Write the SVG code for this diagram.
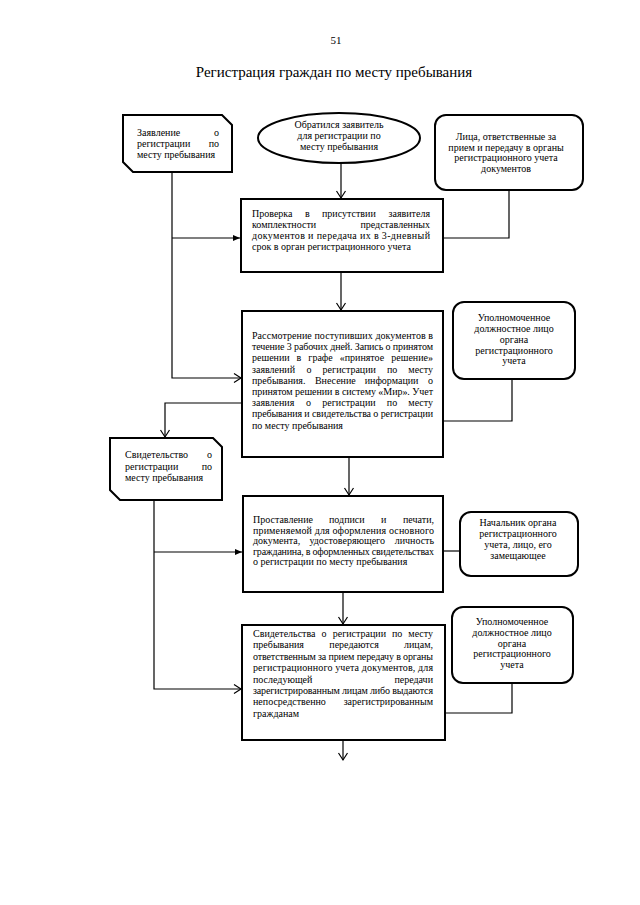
<svg xmlns="http://www.w3.org/2000/svg" width="640" height="905" viewBox="0 0 640 905">
<style>
.bx{fill:#fff;stroke:#000;stroke-width:2}
.ln{fill:none;stroke:#000;stroke-width:1.2}
text{font-family:"Liberation Serif","Times New Roman",serif;font-size:10px;fill:#000}
.c{text-anchor:middle}
.e{text-anchor:end}
</style>
<defs>
<marker id="ao" markerUnits="userSpaceOnUse" markerWidth="12" markerHeight="12" viewBox="-8 -6 10 12" refX="0" refY="0" orient="auto"><path d="M-7,-4.5 L0,0 L-7,4.5" fill="none" stroke="#000" stroke-width="1.2"/></marker>
<marker id="af" markerUnits="userSpaceOnUse" markerWidth="10" markerHeight="10" viewBox="-8 -5 9 10" refX="0" refY="0" orient="auto"><path d="M-7,-3 L0,0 L-7,3 Z" fill="#000"/></marker>
</defs>
<rect width="640" height="905" fill="#fff"/>
<text x="336" y="44" class="c" style="font-size:11px">51</text>
<text x="334" y="77" class="c" style="font-size:15px">Регистрация граждан по месту пребывания</text>

<g id="connectors">
<path class="ln" d="M341,163 V198" marker-end="url(#ao)"/>
<path class="ln" d="M509,190 V238 H443"/>
<path class="ln" d="M172,172 V378 H241" marker-end="url(#ao)"/>
<path class="ln" d="M172,238 H240" marker-end="url(#af)"/>
<path class="ln" d="M341,272 V310" marker-end="url(#ao)"/>
<path class="ln" d="M512,378 V421 H443"/>
<path class="ln" d="M242,403 H165 V437" marker-end="url(#ao)"/>
<path class="ln" d="M349,457 V495" marker-end="url(#ao)"/>
<path class="ln" d="M154,500 V689 H241" marker-end="url(#ao)"/>
<path class="ln" d="M154,552 H242" marker-end="url(#af)"/>
<path class="ln" d="M443,551 H460"/>
<path class="ln" d="M343,592 V624" marker-end="url(#ao)"/>
<path class="ln" d="M512,683 V713 H445"/>
<path class="ln" d="M343,740 V760" marker-end="url(#ao)"/>
</g>

<g id="n-zayavlenie">
<polygon class="bx" points="123,115 222,115 232,125 232,172 133,172 123,162"/>
<text x="137" y="136">Заявление</text><text x="219" y="136" class="e">о</text>
<text x="137" y="147">регистрации</text><text x="219" y="147" class="e">по</text>
<text x="137" y="158">месту пребывания</text>
</g>

<g id="n-start">
<ellipse class="bx" cx="339" cy="138" rx="81" ry="25"/>
<text x="339" y="128" class="c">Обратился заявитель</text>
<text x="339" y="139" class="c">для регистрации по</text>
<text x="339" y="150" class="c">месту пребывания</text>
</g>

<g id="n-litsa">
<rect class="bx" x="435" y="115" width="148" height="75" rx="11"/>
<text x="506" y="140" class="c">Лица, ответственные за</text>
<text x="506" y="150.5" class="c">прием и передачу в органы</text>
<text x="506" y="161" class="c">регистрационного учета</text>
<text x="506" y="171.5" class="c">документов</text>
</g>

<g id="n-proverka">
<rect class="bx" x="241" y="199" width="202" height="73"/>
<text x="252" y="217">Проверка</text><text x="305" y="217">в</text><text x="322" y="217">присутствии</text><text x="430" y="217" class="e">заявителя</text>
<text x="252" y="228">комплектности</text><text x="430" y="228" class="e">представленных</text>
<text x="252" y="239" textLength="178" lengthAdjust="spacing">документов и передача их в 3-дневный</text>
<text x="252" y="250">срок в орган регистрационного учета</text>
</g>

<g id="n-rassmotrenie">
<rect class="bx" x="242" y="311" width="201" height="146"/>
<text x="252" y="339" textLength="181" lengthAdjust="spacing">Рассмотрение поступивших документов в</text>
<text x="252" y="350.2" textLength="181" lengthAdjust="spacing">течение 3 рабочих дней. Запись о принятом</text>
<text x="252" y="361.4">решении</text><text x="296.6" y="361.4">в</text><text x="308.3" y="361.4">графе</text><text x="339.7" y="361.4">«принятое</text><text x="433" y="361.4" class="e">решение»</text>
<text x="252" y="372.6">заявлений</text><text x="306.5" y="372.6">о</text><text x="322.6" y="372.6">регистрации</text><text x="386.9" y="372.6">по</text><text x="433" y="372.6" class="e">месту</text>
<text x="252" y="383.8">пребывания.</text><text x="314.9" y="383.8">Внесение</text><text x="364.7" y="383.8">информации</text><text x="433" y="383.8" class="e">о</text>
<text x="252" y="395" textLength="181" lengthAdjust="spacing">принятом решении в систему «Мир». Учет</text>
<text x="252" y="406.2">заявления</text><text x="306" y="406.2">о</text><text x="322.3" y="406.2">регистрации</text><text x="386.8" y="406.2">по</text><text x="433" y="406.2" class="e">месту</text>
<text x="252" y="417.4" textLength="181" lengthAdjust="spacing">пребывания и свидетельства о регистрации</text>
<text x="252" y="428.6">по месту пребывания</text>
</g>

<g id="n-upoln1">
<rect class="bx" x="453" y="302" width="122" height="77" rx="11"/>
<text x="514" y="321" class="c">Уполномоченное</text>
<text x="514" y="332" class="c">должностное лицо</text>
<text x="514" y="343" class="c">органа</text>
<text x="514" y="353.5" class="c">регистрационного</text>
<text x="514" y="364" class="c">учета</text>
</g>

<g id="n-svidetelstvo">
<polygon class="bx" points="110,438 213,438 222,447 222,500 120,500 110,490"/>
<text x="125" y="458">Свидетельство</text><text x="212" y="458" class="e">о</text>
<text x="125" y="470">регистрации</text><text x="212" y="470" class="e">по</text>
<text x="125" y="481">месту пребывания</text>
</g>

<g id="n-prostavlenie">
<rect class="bx" x="243" y="496" width="200" height="96"/>
<text x="253" y="523">Проставление</text><text x="329" y="523">подписи</text><text x="381" y="523">и</text><text x="434" y="523" class="e">печати,</text>
<text x="253" y="533.6" textLength="181" lengthAdjust="spacing">применяемой для оформления основного</text>
<text x="253" y="544.2">документа,</text><text x="309.4" y="544.2">удостоверяющего</text><text x="434" y="544.2" class="e">личность</text>
<text x="253" y="554.8" textLength="181" lengthAdjust="spacing">гражданина, в оформленных свидетельствах</text>
<text x="253" y="565.4">о регистрации по месту пребывания</text>
</g>

<g id="n-nachalnik">
<rect class="bx" x="460" y="512" width="118" height="64" rx="11"/>
<text x="518" y="526" class="c">Начальник органа</text>
<text x="518" y="537" class="c">регистрационного</text>
<text x="518" y="548" class="c">учета, лицо, его</text>
<text x="518" y="559" class="c">замещающее</text>
</g>

<g id="n-svidetelstva">
<rect class="bx" x="242" y="625" width="203" height="115"/>
<text x="253" y="637">Свидетельства</text><text x="321.6" y="637">о</text><text x="332.7" y="637">регистрации</text><text x="392" y="637">по</text><text x="433" y="637" class="e">месту</text>
<text x="253" y="648.4">пребывания</text><text x="329.3" y="648.4">передаются</text><text x="433" y="648.4" class="e">лицам,</text>
<text x="253" y="659.8" textLength="180" lengthAdjust="spacing">ответственным за прием передачу в органы</text>
<text x="253" y="671.2" textLength="180" lengthAdjust="spacing">регистрационного учета документов, для</text>
<text x="253" y="682.6">последующей</text><text x="433" y="682.6" class="e">передачи</text>
<text x="253" y="694" textLength="180" lengthAdjust="spacing">зарегистрированным лицам либо выдаются</text>
<text x="253" y="705.4">непосредственно</text><text x="433" y="705.4" class="e">зарегистрированным</text>
<text x="253" y="716.8">гражданам</text>
</g>

<g id="n-upoln2">
<rect class="bx" x="452" y="607" width="121" height="76" rx="11"/>
<text x="512" y="625" class="c">Уполномоченное</text>
<text x="512" y="636" class="c">должностное лицо</text>
<text x="512" y="646.5" class="c">органа</text>
<text x="512" y="657" class="c">регистрационного</text>
<text x="512" y="667.5" class="c">учета</text>
</g>
</svg>
